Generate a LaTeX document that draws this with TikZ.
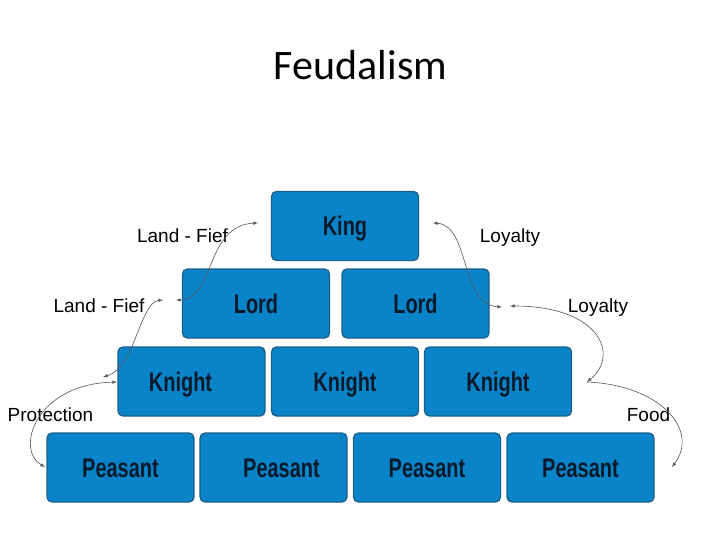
\documentclass[tikz,border=0pt]{standalone}
\usepackage{fontspec}
\setmainfont{Liberation Sans}
\newfontfamily\titlefont{Carlito}
\newfontfamily\boxfont[FakeStretch=0.74]{Liberation Sans}
\definecolor{boxblue}{HTML}{0A84C8}
\definecolor{boxedge}{HTML}{1C5E8A}
\definecolor{boxtext}{HTML}{0B1A2A}
\definecolor{curvegray}{HTML}{555555}

\begin{document}
\begin{tikzpicture}[x=1pt, y=-1pt,
	rank/.style={draw=boxedge, line width=1.3pt, fill=boxblue, rounded corners=5pt,
		minimum width=147pt, minimum height=69pt, text height=19pt, text depth=0pt,
		text=boxtext, font=\boxfont\bfseries\fontsize{27}{27}\selectfont},
	duty/.style={anchor=base, font=\fontsize{19}{19}\selectfont},
	tie/.style={draw=curvegray, line width=0.6pt, >=latex}]
	\useasboundingbox (0,0) rectangle (720,540);
	\node[anchor=base, font=\titlefont\fontsize{42}{42}\selectfont] (title) at (360.5,80) {Feudalism};
	% the ranks, top to bottom
	\node[rank] (king) at (345,226) {King};
	\node[rank] (lord1) at (256,303.5) {Lord};
	\node[rank] (lord2) at (415.5,303.5) {Lord};
	\node[rank] (knight1) at (191.5,381.5) {\hspace*{-22pt}Knight};
	\node[rank] (knight2) at (345,381.5) {Knight};
	\node[rank] (knight3) at (498,381.5) {Knight};
	\node[rank] (peasant1) at (120.5,467.5) {Peasant};
	\node[rank] (peasant2) at (273.5,467.5) {\hspace*{16pt}Peasant};
	\node[rank] (peasant3) at (427,467.5) {Peasant};
	\node[rank] (peasant4) at (580.5,467.5) {Peasant};
	% what goes between them
	\node[duty] (fief1) at (182.5,242) {Land - Fief};
	\node[duty] (fief2) at (99,312) {Land - Fief};
	\node[duty] (protect) at (50.5,421) {Protection};
	\node[duty] (loyal1) at (510,242) {Loyalty};
	\node[duty] (loyal2) at (598,312) {Loyalty};
	\node[duty] (food) at (648.5,421) {Food};
	\coordinate (kingL) at (258,223);
	\coordinate (kingR) at (433,223);
	\coordinate (lordL) at (176,300);
	\coordinate (lordLL) at (163,300);
	\coordinate (lordR) at (502,307);
	\coordinate (lordRR) at (510,306);
	\coordinate (knightL) at (103,377);
	\coordinate (knightLL) at (117,382);
	\coordinate (knightR) at (587,382);
	\coordinate (peasantL) at (45,467);
	\coordinate (peasantR) at (672,467);
	\draw [tie, <->] (lordL) .. controls (215,300) and (205,225) .. (kingL);
	\draw [tie, <->] (lordLL) .. controls (140,302) and (135,368) .. (knightL);
	\draw [tie, <->] (knightLL) .. controls (35,384) and (15,450) .. (peasantL);
	\draw [tie, <->] (kingR) .. controls (470,225) and (460,305) .. (lordR);
	\draw [tie, <->] (lordRR) .. controls (600,306) and (620,355) .. (knightR);
	\draw [tie, ->] (knightR) .. controls (660,385) and (700,430) .. (peasantR);
\end{tikzpicture}
\end{document}
